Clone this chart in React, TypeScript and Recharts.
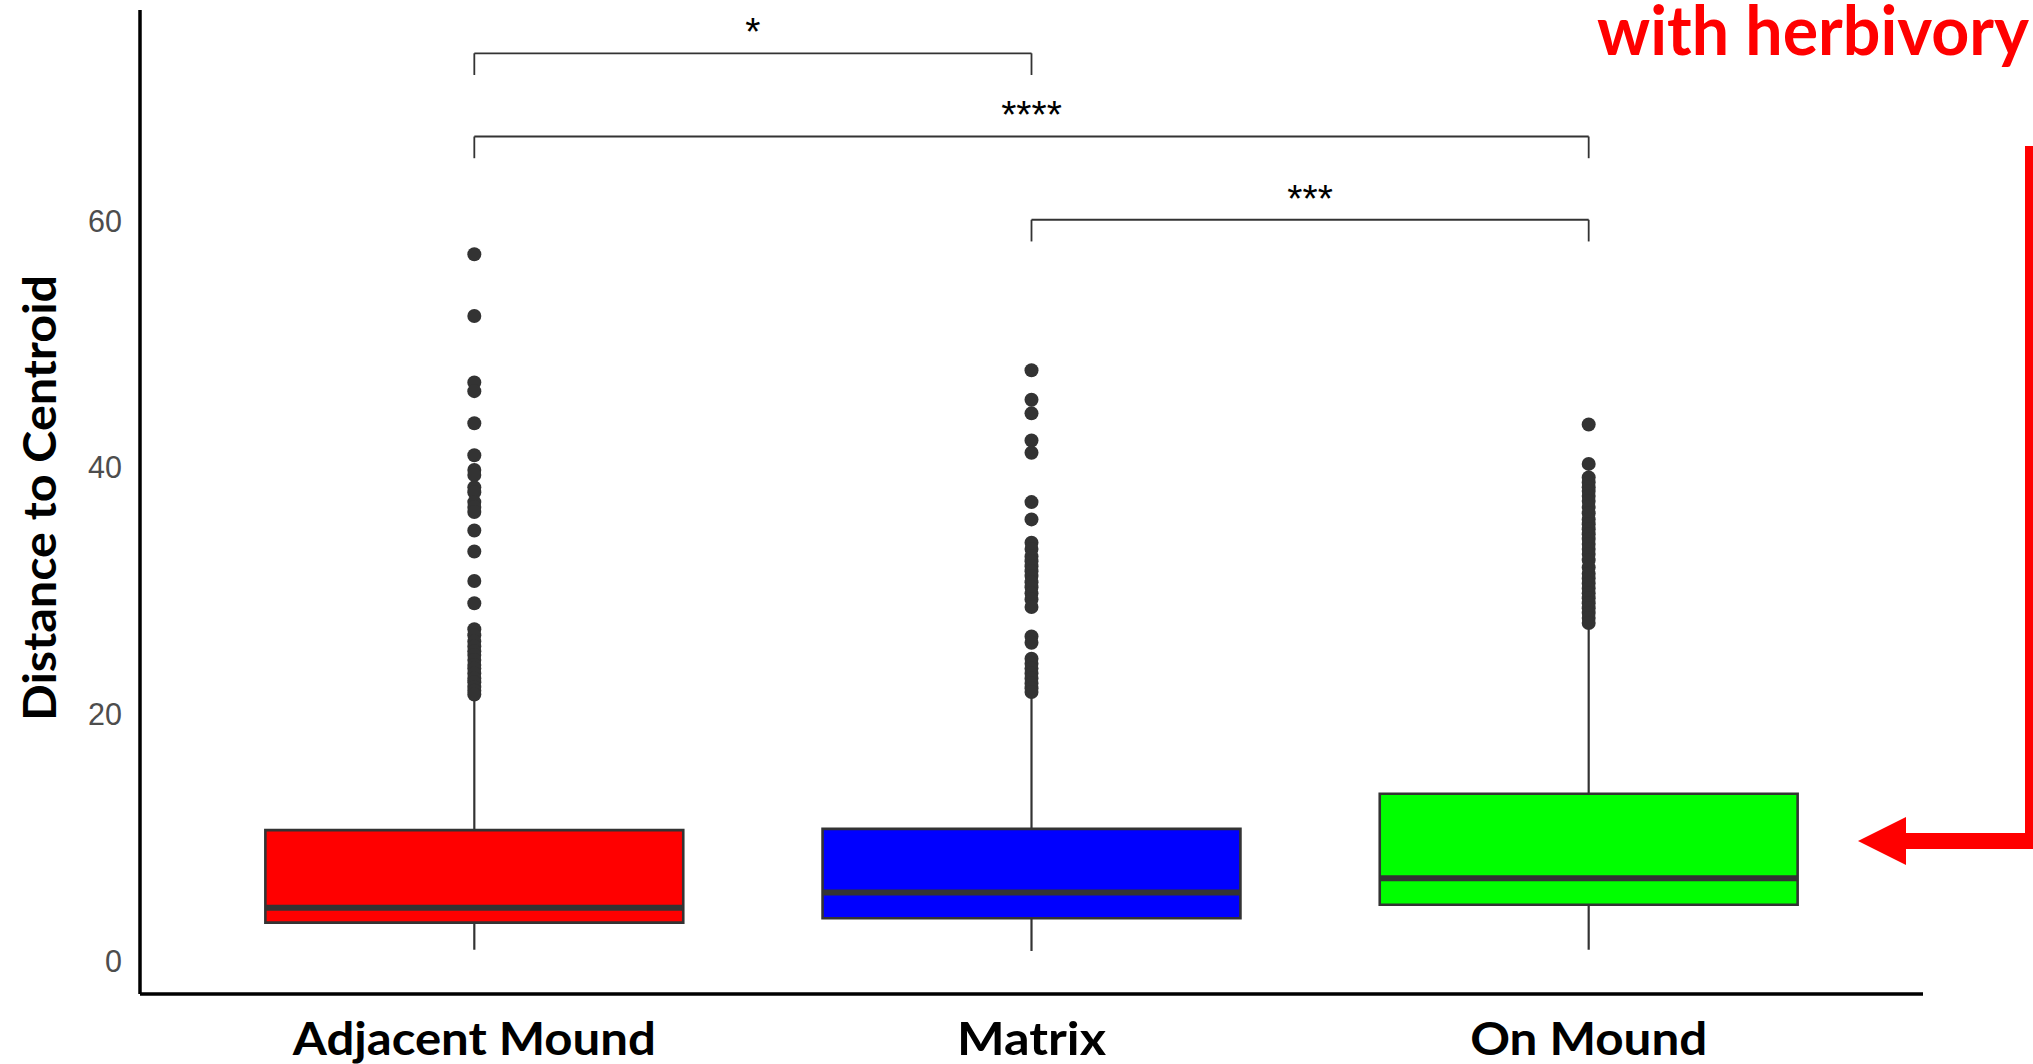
import React from 'react';
import { ComposedChart, XAxis, YAxis, Scatter, ReferenceArea, ReferenceLine } from 'recharts';

// ---- data ----
const categories = ['Adjacent Mound', 'Matrix', 'On Mound'];
const lowerWhisker = [0.9, 0.8, 0.9];
const q1Values = [3.1, 3.45, 4.55];
const medianValues = [4.3, 5.55, 6.7];
const q3Values = [10.6, 10.7, 13.55];
const upperWhisker = [21.4, 21.5, 26.9];

const outliersAdjacent = [
  57.3, 52.3, 46.9, 46.2, 43.6, 41.0, 39.8, 39.4, 38.4, 38.0, 37.2, 36.8, 36.4, 34.9, 33.2,
  30.8, 29.0, 26.9, 26.4, 25.9, 25.5, 25.1, 24.8, 24.4, 24.0, 23.7, 23.3, 22.9, 22.6, 22.2, 21.9, 21.6,
];
const outliersMatrix = [
  47.9, 45.5, 44.4, 42.2, 41.2, 37.2, 35.8, 33.9, 33.4, 32.8, 32.4, 32.0, 31.6, 31.2, 30.7,
  30.3, 29.8, 29.3, 28.7, 26.3, 25.8, 24.5, 24.1, 23.7, 23.3, 22.9, 22.5, 22.1, 21.8,
];
const outliersOnMound = [
  43.5, 40.3, 39.2, 38.8, 38.4, 38.1, 37.7, 37.3, 36.8, 36.3, 35.8, 35.4, 35.0, 34.6, 34.2,
  33.8, 33.4, 33.0, 32.5, 31.9, 31.4, 31.0, 30.6, 30.2, 29.8, 29.4, 29.0, 28.6, 28.2, 27.8, 27.4,
];

const yTicks = [0, 20, 40, 60];

const comparisonFrom = [1, 1, 2];
const comparisonTo = [2, 3, 3];
const comparisonLabels = ['*', '****', '***'];
const comparisonHeights = [73.6, 66.85, 60.1];

// ---- styling ----
const boxColors = ['#FF0000', '#0000FF', '#00FF00'];
const catLabelWidths = [363, 149, 237];
const BOX_HALF = 0.375;
const LEG_DROP = 1.76;
const LABEL_RISE = 2.45;
const DARK = '#333333';

const outlierGroups = [outliersAdjacent, outliersMatrix, outliersOnMound];
const outlierPoints = outlierGroups.flatMap((vals, i) => vals.map((v) => ({ x: i + 1, y: v })));
const sigLabelPoints = comparisonLabels.map((label, k) => ({
  x: (comparisonFrom[k] + comparisonTo[k]) / 2,
  y: comparisonHeights[k] + LABEL_RISE,
  label,
}));

const OutlierDot = (p: any) => <circle cx={p.cx} cy={p.cy} r={7} fill={DARK} />;

const SigLabel = (p: any) => (
  <text
    x={p.cx}
    y={p.cy + 22}
    textAnchor="middle"
    fontFamily="Liberation Sans, Arial, sans-serif"
    fontSize={39}
    fill="#000"
  >
    {p.payload.label}
  </text>
);

const CatTick = (p: any) => {
  const idx = Math.round(p.payload.value) - 1;
  return (
    <text
      x={p.x}
      y={p.y + 61}
      textAnchor="middle"
      fontFamily="Lato, 'Open Sans', sans-serif"
      fontWeight={700}
      fontSize={46}
      fill="#000"
      textLength={catLabelWidths[idx]}
      lengthAdjust="spacingAndGlyphs"
    >
      {categories[idx]}
    </text>
  );
};

const YTitle = () => (
  <text
    x={55.5}
    y={498}
    transform="rotate(-90, 55.5, 498)"
    textAnchor="middle"
    fontFamily="Lato, 'Open Sans', sans-serif"
    fontWeight={700}
    fontSize={46}
    fill="#000"
    textLength={446}
    lengthAdjust="spacingAndGlyphs"
  >
    Distance to Centroid
  </text>
);

export default function App() {
  return (
    <div
      style={{
        position: 'fixed',
        left: 0,
        top: 0,
        width: 2033,
        height: 1064,
        overflow: 'hidden',
        background: '#fff',
      }}
    >
      <ComposedChart width={2033} height={1064} margin={{ top: 10, right: 110, bottom: 0, left: 0 }}>
        <XAxis
          type="number"
          dataKey="x"
          domain={[0.4, 3.6]}
          ticks={[1, 2, 3]}
          allowDataOverflow
          height={70}
          axisLine={{ stroke: '#000', strokeWidth: 3.5 }}
          tickLine={false}
          tickSize={0}
          tickMargin={0}
          tick={<CatTick />}
          interval={0}
        />
        <YAxis
          type="number"
          dataKey="y"
          domain={[-2.69, 77.11]}
          ticks={yTicks}
          allowDataOverflow
          width={140}
          axisLine={{ stroke: '#000', strokeWidth: 3.5 }}
          tickLine={false}
          tickSize={0}
          tickMargin={18}
          tick={{ fill: '#4d4d4d', fontSize: 30.5, fontFamily: 'Liberation Sans, Arial, sans-serif' }}
          label={{ content: () => <YTitle /> }}
        />

        {categories.map((c, i) => (
          <ReferenceLine
            key={'wu' + c}
            segment={[
              { x: i + 1, y: q3Values[i] },
              { x: i + 1, y: upperWhisker[i] },
            ]}
            stroke={DARK}
            strokeWidth={2.2}
          />
        ))}
        {categories.map((c, i) => (
          <ReferenceLine
            key={'wl' + c}
            segment={[
              { x: i + 1, y: lowerWhisker[i] },
              { x: i + 1, y: q1Values[i] },
            ]}
            stroke={DARK}
            strokeWidth={2.2}
          />
        ))}
        {categories.map((c, i) => (
          <ReferenceArea
            key={'box' + c}
            x1={i + 1 - BOX_HALF}
            x2={i + 1 + BOX_HALF}
            y1={q1Values[i]}
            y2={q3Values[i]}
            fill={boxColors[i]}
            fillOpacity={1}
            stroke={DARK}
            strokeWidth={2.6}
          />
        ))}
        {categories.map((c, i) => (
          <ReferenceLine
            key={'med' + c}
            segment={[
              { x: i + 1 - BOX_HALF, y: medianValues[i] },
              { x: i + 1 + BOX_HALF, y: medianValues[i] },
            ]}
            stroke={DARK}
            strokeWidth={6}
          />
        ))}

        {comparisonLabels.map((lab, k) => (
          <ReferenceLine
            key={'bl' + k}
            segment={[
              { x: comparisonFrom[k], y: comparisonHeights[k] - LEG_DROP },
              { x: comparisonFrom[k], y: comparisonHeights[k] },
            ]}
            stroke={DARK}
            strokeWidth={1.8}
          />
        ))}
        {comparisonLabels.map((lab, k) => (
          <ReferenceLine
            key={'bh' + k}
            segment={[
              { x: comparisonFrom[k], y: comparisonHeights[k] },
              { x: comparisonTo[k], y: comparisonHeights[k] },
            ]}
            stroke={DARK}
            strokeWidth={1.8}
          />
        ))}
        {comparisonLabels.map((lab, k) => (
          <ReferenceLine
            key={'br' + k}
            segment={[
              { x: comparisonTo[k], y: comparisonHeights[k] },
              { x: comparisonTo[k], y: comparisonHeights[k] - LEG_DROP },
            ]}
            stroke={DARK}
            strokeWidth={1.8}
          />
        ))}

        <Scatter data={outlierPoints} shape={<OutlierDot />} isAnimationActive={false} />
        <Scatter data={sigLabelPoints} shape={<SigLabel />} isAnimationActive={false} />
      </ComposedChart>

      <svg
        width={2033}
        height={1064}
        style={{ position: 'absolute', left: 0, top: 0, pointerEvents: 'none' }}
      >
        <text
          x={1597}
          y={55}
          fontFamily="Lato, 'Open Sans', sans-serif"
          fontWeight={700}
          fontSize={69}
          fill="#FF0000"
          textLength={432}
          lengthAdjust="spacingAndGlyphs"
        >
          with herbivory
        </text>
        <polyline
          points="2033,146 2033,841 1905,841"
          fill="none"
          stroke="#FF0000"
          strokeWidth={16}
          strokeLinejoin="miter"
        />
        <polygon points="1858,841 1906,817 1906,865" fill="#FF0000" />
      </svg>
    </div>
  );
}
